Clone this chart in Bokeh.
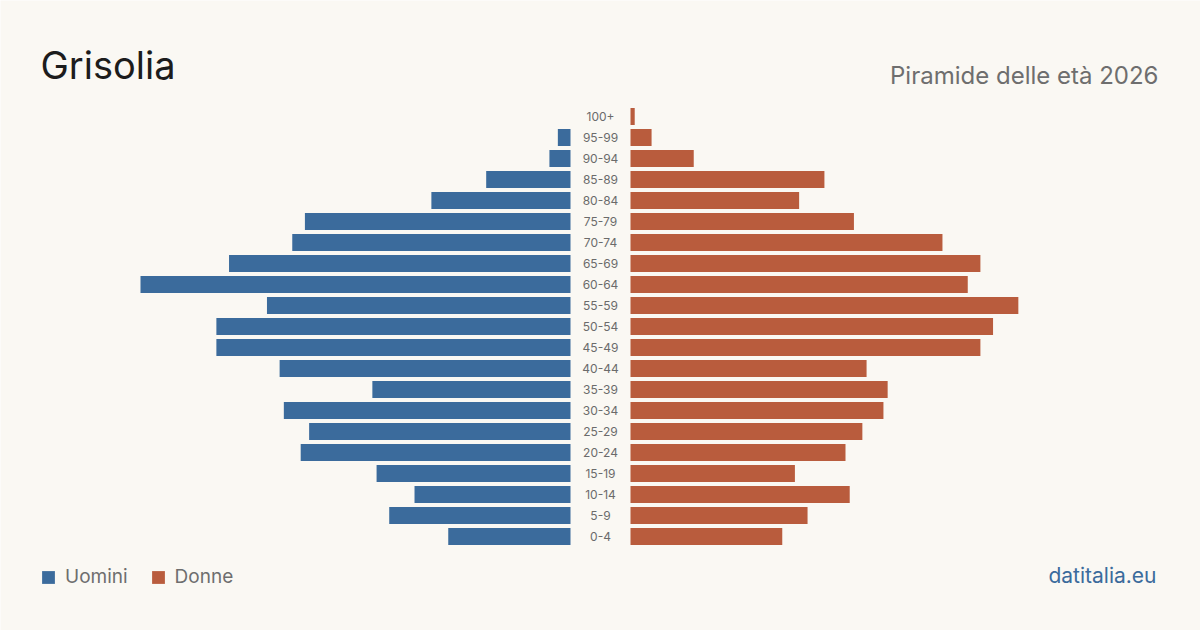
from bokeh.plotting import figure
from bokeh.models import ColumnDataSource, Label, Legend, LegendItem, Range1d
from bokeh.core.properties import value
from bokeh.embed import file_html
from bokeh.resources import INLINE

# ---- data ----
age_groups = ["0-4", "5-9", "10-14", "15-19", "20-24", "25-29", "30-34", "35-39",
              "40-44", "45-49", "50-54", "55-59", "60-64", "65-69", "70-74",
              "75-79", "80-84", "85-89", "90-94", "95-99", "100+"]
men = [29, 43, 37, 46, 64, 62, 68, 47, 69, 84, 84, 72, 102, 81, 66, 63, 33, 20, 5, 3, 0]
women = [36, 42, 52, 39, 51, 55, 60, 61, 56, 83, 86, 92, 80, 83, 74, 53, 40, 46, 15, 5, 1]

title_text = "Grisolia"
subtitle_text = "Piramide delle età 2026"
source_text = "datitalia.eu"

BG = "#faf8f3"
BLUE = "#3b6b9c"
ORANGE = "#b95c3d"
FONT = "Inter"

W, H = 1200, 630
px_per_unit = 430 / 102.0
half_gap = 30 / px_per_unit
half_span = 600 / px_per_unit
row_px = 21.0
y0_from_bottom = 630 - 536  # pixel position of first row from bottom
y_start = -y0_from_bottom / row_px
y_end = y_start + H / row_px

idx = list(range(len(age_groups)))
src = ColumnDataSource(dict(
    y=idx,
    age=age_groups,
    m_left=[-(half_gap + v) for v in men],
    m_right=[-half_gap] * len(men),
    f_left=[half_gap] * len(women),
    f_right=[half_gap + v for v in women],
    zero=[0] * len(idx),
))

p = figure(width=W, height=H, output_backend="svg", toolbar_location=None,
           x_range=Range1d(-half_span, half_span), y_range=Range1d(y_start, y_end),
           min_border=0, min_border_left=0, min_border_right=0,
           min_border_top=0, min_border_bottom=0)
p.axis.visible = False
p.grid.visible = False
p.outline_line_color = None
p.background_fill_color = BG
p.border_fill_color = BG

bh = 17 / row_px
rm = p.hbar(y="y", left="m_left", right="m_right", height=bh, source=src,
            fill_color=BLUE, line_color=None)
rf = p.hbar(y="y", left="f_left", right="f_right", height=bh, source=src,
            fill_color=ORANGE, line_color=None)

p.text(x="zero", y="y", text="age", source=src, text_align="center",
       text_baseline="middle", text_font=value(FONT), text_font_size="12px",
       text_color="#6b6b6b")

p.add_layout(Label(x=40, y=H - 80 + 16, x_units="screen", y_units="screen",
                   text=title_text, text_font=FONT, text_font_size="38px",
                   text_color="#1c1c1c", text_baseline="alphabetic"))
p.add_layout(Label(x=1158, y=H - 85 + 10, x_units="screen", y_units="screen",
                   text=subtitle_text, text_font=FONT, text_font_size="24px",
                   text_color="#6e6e6e", text_align="right",
                   text_baseline="alphabetic"))
p.add_layout(Label(x=1156, y=H - 583 + 8, x_units="screen", y_units="screen",
                   text=source_text, text_font=FONT, text_font_size="21px",
                   text_color=BLUE, text_align="right",
                   text_baseline="alphabetic"))

legend = Legend(items=[LegendItem(label="Uomini", renderers=[rm]),
                       LegendItem(label="Donne", renderers=[rf])],
                orientation="horizontal", location=(40, H - 588),
                glyph_width=16, glyph_height=16, label_standoff=9,
                spacing=22, padding=0, margin=0,
                label_text_font=FONT, label_text_font_size="19px",
                label_text_color="#6e6e6e", label_height=16,
                background_fill_alpha=0, border_line_alpha=0)
p.add_layout(legend)

open("out.html", "w").write(file_html(p, INLINE))
